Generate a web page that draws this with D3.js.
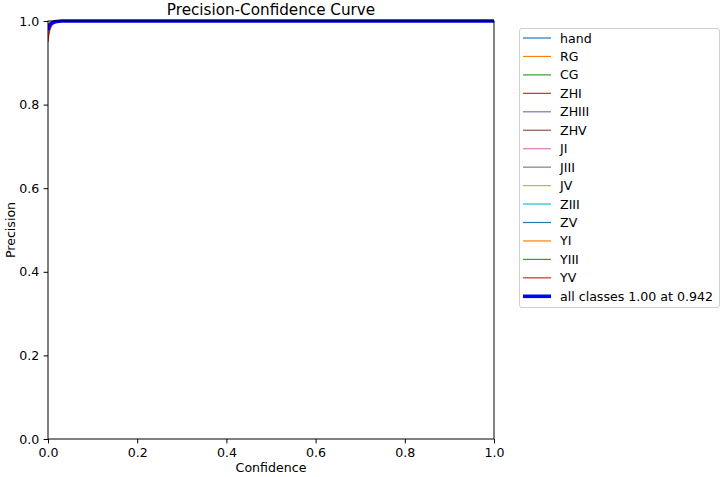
<!DOCTYPE html>
<html lang="en">
<head>
<meta charset="utf-8">
<title>Precision-Confidence Curve</title>
<script src="https://cdn.jsdelivr.net/npm/d3@7/dist/d3.min.js"></script>
<style>
  body { margin: 0; background: #fff; }
  text { font-family: "DejaVu Sans", sans-serif; fill: #000; }
</style>
</head>
<body>
<script>
// confidence grid
var conf = [0, 0.002, 0.005, 0.01, 0.015, 0.02, 0.03, 0.04, 0.06, 0.1, 0.5, 1.0];

var classNames = ["hand", "RG", "CG", "ZHI", "ZHIII", "ZHV", "JI", "JIII", "JV", "ZIII", "ZV", "YI", "YIII", "YV"];
var classColors = ["#1f77b4", "#ff7f0e", "#2ca02c", "#d62728", "#9467bd", "#8c564b", "#e377c2", "#7f7f7f", "#bcbd22", "#17becf", "#1f77b4", "#ff7f0e", "#2ca02c", "#d62728"];

// precision per class (all near 1)
var pHand  = [0.985, 0.990, 0.994, 0.997, 0.998, 0.999, 1, 1, 1, 1, 1, 1];
var pRG    = [0.990, 0.993, 0.996, 0.998, 0.999, 1, 1, 1, 1, 1, 1, 1];
var pCG    = [0.980, 0.987, 0.993, 0.996, 0.998, 0.999, 1, 1, 1, 1, 1, 1];
var pZHI   = [0.960, 0.975, 0.988, 0.994, 0.997, 0.998, 0.999, 1, 1, 1, 1, 1];
var pZHIII = [0.988, 0.992, 0.995, 0.997, 0.999, 1, 1, 1, 1, 1, 1, 1];
var pZHV   = [0.983, 0.989, 0.994, 0.997, 0.998, 0.999, 1, 1, 1, 1, 1, 1];
var pJI    = [0.992, 0.995, 0.997, 0.999, 1, 1, 1, 1, 1, 1, 1, 1];
var pJIII  = [0.986, 0.991, 0.995, 0.997, 0.998, 0.999, 1, 1, 1, 1, 1, 1];
var pJV    = [0.990, 0.994, 0.996, 0.998, 0.999, 1, 1, 1, 1, 1, 1, 1];
var pZIII  = [0.984, 0.990, 0.994, 0.997, 0.998, 0.999, 1, 1, 1, 1, 1, 1];
var pZV    = [0.978, 0.986, 0.992, 0.996, 0.998, 0.999, 1, 1, 1, 1, 1, 1];
var pYI    = [0.989, 0.993, 0.996, 0.998, 0.999, 1, 1, 1, 1, 1, 1, 1];
var pYIII  = [0.982, 0.989, 0.994, 0.997, 0.998, 0.999, 1, 1, 1, 1, 1, 1];
var pYV    = [0.950, 0.968, 0.982, 0.991, 0.995, 0.997, 0.999, 1, 1, 1, 1, 1];
var pAll   = [0.978, 0.986, 0.992, 0.996, 0.998, 0.999, 1, 1, 1, 1, 1, 1];

var classValues = [pHand, pRG, pCG, pZHI, pZHIII, pZHV, pJI, pJIII, pJV, pZIII, pZV, pYI, pYIII, pYV];
var allLabel = "all classes 1.00 at 0.942";
var ticks = [0, 0.2, 0.4, 0.6, 0.8, 1.0];

var W = 724, H = 477;
var m = {left: 48, top: 21, right: 494, bottom: 439};
var fs = 12.6;

var svg = d3.select("body").append("svg")
  .attr("width", W)
  .attr("height", H);

var x = d3.scaleLinear().domain([0, 1]).range([m.left, m.right]);
var y = d3.scaleLinear().domain([0, 1]).range([m.bottom, m.top]);

var line = d3.line()
  .x(function(d, i) { return x(conf[i]); })
  .y(function(d) { return y(d); });

var plot = svg.append("g");
plot.append("clipPath").attr("id", "clip")
  .append("rect")
  .attr("x", m.left).attr("y", m.top - 3)
  .attr("width", m.right - m.left).attr("height", m.bottom - m.top + 3);

var curves = plot.append("g").attr("clip-path", "url(#clip)");
classValues.forEach(function(vals, i) {
  curves.append("path")
    .attr("d", line(vals))
    .attr("fill", "none")
    .attr("stroke", classColors[i])
    .attr("stroke-width", 1.2);
});
curves.append("path")
  .attr("d", line(pAll))
  .attr("fill", "none")
  .attr("stroke", "#0000ff")
  .attr("stroke-width", 3.6);

// axes
var xAxis = svg.append("g")
  .attr("transform", "translate(0," + m.bottom + ")")
  .call(d3.axisBottom(x).tickValues(ticks).tickFormat(d3.format(".1f")).tickSize(4.4).tickPadding(4.4));
var yAxis = svg.append("g")
  .attr("transform", "translate(" + m.left + ",0)")
  .call(d3.axisLeft(y).tickValues(ticks).tickFormat(d3.format(".1f")).tickSize(4.4).tickPadding(4.4));
[xAxis, yAxis].forEach(function(a) {
  a.select(".domain").remove();
  a.selectAll("line").attr("stroke", "#000").attr("stroke-width", 1);
  a.selectAll("text").style("font-family", "DejaVu Sans").style("font-size", fs + "px");
});

// spines
svg.append("rect")
  .attr("x", m.left).attr("y", m.top)
  .attr("width", m.right - m.left).attr("height", m.bottom - m.top)
  .attr("fill", "none").attr("stroke", "#000").attr("stroke-width", 1);

// labels
svg.append("text")
  .attr("x", (m.left + m.right) / 2).attr("y", 15)
  .attr("text-anchor", "middle").style("font-size", "15.2px")
  .text("Precision-Confidence Curve");
svg.append("text")
  .attr("x", (m.left + m.right) / 2).attr("y", 472)
  .attr("text-anchor", "middle").style("font-size", fs + "px")
  .text("Confidence");
svg.append("text")
  .attr("transform", "translate(15," + (m.top + m.bottom) / 2 + ") rotate(-90)")
  .attr("text-anchor", "middle").style("font-size", fs + "px")
  .text("Precision");

// legend
var lg = svg.append("g");
lg.append("rect")
  .attr("x", 519.5).attr("y", 28.5)
  .attr("width", 200).attr("height", 279)
  .attr("rx", 2.5)
  .attr("fill", "#fff").attr("fill-opacity", 0.8)
  .attr("stroke", "#d0d0d0").attr("stroke-width", 1);

var entries = classNames.map(function(n, i) { return {name: n, color: classColors[i], w: 1.2}; });
entries.push({name: allLabel, color: "#0000ff", w: 3.6});

var row = lg.selectAll("g.entry").data(entries).enter().append("g")
  .attr("transform", function(d, i) { return "translate(0," + (38 + i * 18.45) + ")"; });
row.append("line")
  .attr("x1", 523).attr("x2", 551)
  .attr("stroke", function(d) { return d.color; })
  .attr("stroke-width", function(d) { return d.w; });
row.append("text")
  .attr("x", 560).attr("y", 4.5)
  .style("font-size", fs + "px")
  .text(function(d) { return d.name; });
</script>
</body>
</html>
